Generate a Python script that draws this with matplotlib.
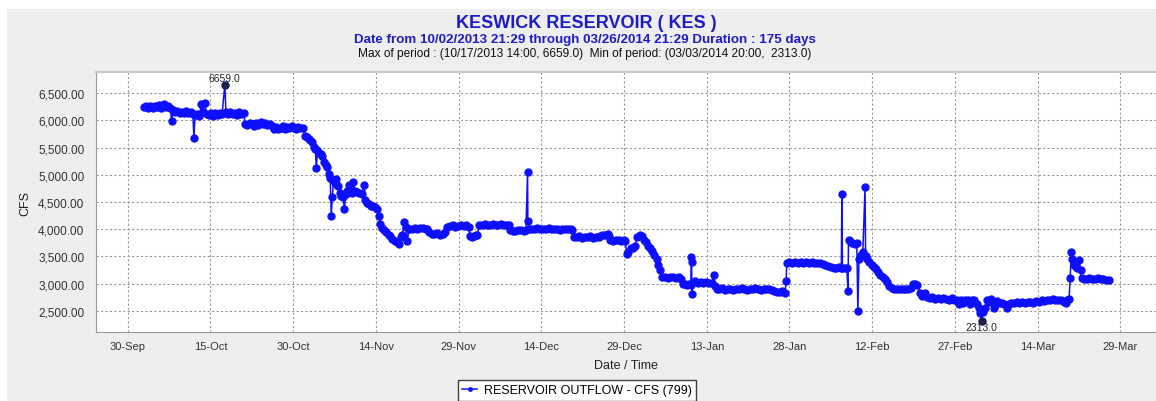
import numpy as np
import pandas as pd
import matplotlib
matplotlib.use("Agg")
import matplotlib.pyplot as plt
from matplotlib.ticker import FuncFormatter
from matplotlib.patches import Rectangle

plt.rcParams['font.family'] = ['Liberation Sans', 'DejaVu Sans']

# day offsets are days after 30-Sep-2013 00:00, values in CFS
oct_days = [2.9, 3.3, 3.7, 4.1, 4.5, 4.9, 5.3, 5.7, 6.1, 6.5, 6.9, 7.3, 7.7, 7.97, 8.2, 8.6,
            9.0, 9.4, 9.8, 10.2, 10.6, 11.0, 11.4, 11.8, 12.0, 12.2, 12.6, 13.0, 13.3, 13.6,
            14.0, 14.3, 14.7, 15.1, 15.5, 15.9, 16.3, 16.7, 17.1, 17.6, 17.8, 18.2, 18.6,
            19.0, 19.4, 19.8, 20.2, 20.6, 21.0, 21.3, 21.7, 22.1, 22.5, 22.9, 23.3, 23.7,
            24.1, 24.5, 24.9, 25.3, 25.7, 26.1, 26.5, 26.9, 27.3, 27.7, 28.1, 28.5, 28.9,
            29.3, 29.7, 30.1, 30.5, 30.9, 31.3, 31.7]
oct_cfs = [6240, 6270, 6230, 6260, 6220, 6270, 6240, 6280, 6230, 6300, 6250, 6270, 6230, 5985, 6200, 6150,
           6170, 6130, 6160, 6140, 6180, 6130, 6150, 6110, 5674, 6100, 6120, 6090, 6300, 6150,
           6320, 6120, 6100, 6130, 6090, 6140, 6100, 6130, 6110, 6659, 6150, 6120, 6150,
           6110, 6140, 6100, 6150, 6120, 6140, 5940, 5920, 5960, 5930, 5900, 5950, 5920,
           5970, 5940, 5960, 5910, 5940, 5890, 5850, 5880, 5840, 5870, 5890, 5850, 5880,
           5860, 5890, 5870, 5850, 5880, 5860, 5870]

nov_days = [32.2, 32.5, 32.8, 33.1, 33.4, 33.7, 34.0, 34.2, 34.4, 34.7, 35.0, 35.3, 35.6, 35.9,
            36.2, 36.5, 36.7, 36.9, 37.1, 37.3, 37.5, 37.7, 37.9, 38.1, 38.4, 38.7, 39.0, 39.3,
            39.5, 39.8, 40.1, 40.4, 40.7, 40.9, 41.2, 41.6, 42.0, 42.4, 42.9, 43.1, 43.4, 43.7,
            44.1, 44.5, 44.9, 45.2, 45.5, 45.8, 46.1, 46.5, 46.9, 47.3, 47.6, 48.0, 48.4, 48.8,
            49.2, 49.5, 49.8, 50.1, 50.4, 50.7, 51.0, 51.5, 52.0, 52.5, 53.0, 53.5, 54.0, 54.3,
            54.6, 55.1, 55.6, 56.1, 56.6, 57.1, 57.6, 57.9, 58.4, 58.9, 59.4, 59.9, 60.4, 60.9,
            61.4, 61.8, 62.0, 62.4, 62.8, 63.1, 63.4, 63.7, 64.2, 64.7, 65.2, 65.7, 66.2, 66.7,
            67.2, 67.7, 68.2, 68.7, 69.1, 69.4, 69.8, 70.3, 70.8, 71.3, 71.8, 72.2, 72.5, 72.55,
            72.8, 73.3, 73.8, 74.3, 74.8, 75.3, 75.8, 76.3, 76.8, 77.3, 77.8, 78.3, 78.8, 79.3,
            79.8, 80.3, 80.6, 80.9, 81.4, 81.9, 82.4, 82.9, 83.4, 83.9, 84.4, 84.9, 85.4, 85.7,
            86.0, 86.5, 87.0, 87.2, 87.5, 88.0, 88.5, 89.0, 89.5, 90.0, 90.2, 90.5, 90.8, 91.2,
            91.6, 92.0, 92.4, 92.8, 93.2, 93.6, 93.9, 94.3, 94.7, 95.1, 95.5]
nov_cfs = [5720, 5700, 5660, 5640, 5600, 5520, 5480, 5125, 5450, 5400, 5380, 5350, 5240, 5180,
           5140, 5020, 4950, 4250, 4600, 4900, 4850, 4930, 4820, 4800, 4660, 4620, 4600, 4370,
           4640, 4700, 4815, 4680, 4660, 4865, 4700, 4680, 4670, 4650, 4815, 4530, 4480, 4460,
           4430, 4420, 4400, 4380, 4250, 4100, 4020, 3990, 3940, 3900, 3880, 3820, 3790, 3760,
           3730, 3850, 3900, 4125, 4050, 3785, 4000, 4010, 4030, 4000, 4020, 4030, 4010, 4000,
           3940, 3920, 3910, 3930, 3900, 3920, 3950, 4050, 4060, 4070, 4050, 4060, 4080, 4060,
           4070, 4050, 3880, 3850, 3880, 3900, 3890, 4070, 4080, 4090, 4080, 4070, 4090, 4080,
           4070, 4090, 4080, 4070, 4080, 3980, 3960, 3970, 3990, 3980, 3970, 3990, 5050, 4160,
           4000, 4010, 4000, 4020, 4000, 4010, 4000, 4020, 4000, 4010, 4000, 3990, 4010, 4000,
           4010, 4000, 3990, 3860, 3850, 3870, 3840, 3860, 3850, 3870, 3840, 3850, 3860, 3880,
           3900, 3890, 3910, 3880, 3800, 3790, 3810, 3800, 3790, 3810, 3780, 3540, 3580, 3660,
           3650, 3700, 3860, 3890, 3880, 3800, 3760, 3700, 3650, 3600, 3520]

jan_days = [95.9, 96.2, 96.5, 96.9, 97.4, 97.9, 98.4, 98.9, 99.4, 99.9, 100.3, 100.6, 101.0, 101.4,
            101.8, 102.1, 102.2, 102.25, 102.3, 102.5, 102.9, 103.4, 103.9, 104.4, 104.9, 105.4,
            105.9, 106.3, 106.5, 106.8, 107.3, 107.8, 108.3, 108.8, 109.3, 109.8, 110.3, 110.8,
            111.3, 111.8, 112.3, 112.8, 113.3, 113.8, 114.3, 114.8, 115.3, 115.8, 116.3, 116.8,
            117.2, 117.7, 118.2, 118.7, 119.2, 119.4, 119.5, 120.0, 120.5, 121.0, 121.5, 122.0,
            122.5, 123.0, 123.5, 124.0, 124.5, 125.0, 125.5, 126.0, 126.5, 127.0, 127.5, 128.0,
            128.5, 129.0, 129.4, 129.5, 129.6, 130.0, 130.4, 130.6, 130.7, 131.0, 131.4, 131.8,
            132.2, 132.4, 132.6, 132.9, 133.3, 133.7, 133.8, 134.1, 134.5, 134.9, 135.3, 135.7,
            136.1, 136.5, 136.9, 137.3, 137.7, 138.1, 138.5, 139.0, 139.5, 140.0, 140.5, 141.0,
            141.5, 142.0, 142.4, 142.8, 143.2]
jan_cfs = [3460, 3340, 3250, 3130, 3120, 3110, 3130, 3120, 3110, 3120, 3080, 3000, 2990, 2970,
           3000, 2980, 3490, 3400, 2800, 3030, 3040, 3020, 3030, 3010, 3030, 3020,
           3010, 3165, 2950, 2910, 2900, 2920, 2890, 2910, 2900, 2880, 2910, 2900,
           2920, 2900, 2890, 2910, 2900, 2920, 2900, 2890, 2910, 2900, 2910, 2890,
           2860, 2850, 2840, 2860, 2830, 3050, 3380, 3390, 3370, 3390, 3380, 3400,
           3380, 3390, 3370, 3390, 3380, 3370, 3380, 3360, 3350, 3320, 3300, 3290,
           3280, 3300, 3280, 4655, 3290, 3280, 3290, 2860, 3800, 3780, 3750, 3720,
           3740, 2490, 3450, 3520, 3580, 4780, 3500, 3460, 3400, 3340, 3300, 3260,
           3220, 3150, 3120, 3080, 3030, 2950, 2920, 2910, 2900, 2910, 2900, 2910,
           2900, 2920, 2990, 3000, 2980]

mar_days = [143.7, 144.1, 144.5, 144.9, 145.4, 145.9, 146.4, 146.9, 147.4, 147.9, 148.4, 148.9,
            149.4, 149.9, 150.3, 150.7, 151.1, 151.5, 151.9, 152.3, 152.7, 153.1, 153.5, 154.0,
            154.3, 154.6, 154.83, 155.1, 155.4, 155.8, 156.2, 156.6, 157.0, 157.3, 157.7, 158.1,
            158.5, 158.9, 159.4, 159.8, 160.2, 160.7, 161.2, 161.7, 162.2, 162.7, 163.2, 163.7,
            164.2, 164.7, 165.2, 165.7, 166.2, 166.7, 167.2, 167.7, 168.2, 168.7, 169.2, 169.7,
            170.1, 170.4, 170.7, 170.9, 171.1, 171.3, 171.6, 171.9, 172.2, 172.5, 172.8, 173.0,
            173.4, 173.9, 174.4, 174.9, 175.4, 175.9, 176.4, 176.9, 177.4, 177.9]
mar_cfs = [2820, 2780, 2820, 2760, 2740, 2750, 2720, 2740, 2710, 2730, 2720, 2700,
           2730, 2700, 2690, 2620, 2700, 2640, 2690, 2700, 2620, 2690, 2700, 2620,
           2550, 2460, 2313, 2470, 2560, 2690, 2660, 2710, 2560, 2600, 2680, 2650,
           2640, 2620, 2560, 2620, 2640, 2650, 2660, 2640, 2660, 2650, 2670, 2660,
           2650, 2680, 2670, 2690, 2680, 2700, 2690, 2710, 2700, 2690, 2700, 2660,
           2640, 2700, 2720, 3100, 3580, 3450, 3350, 3300, 3290, 3430, 3250, 3100,
           3080, 3090, 3100, 3080, 3090, 3110, 3080, 3090, 3070, 3060]

tick_labels = ["30-Sep", "15-Oct", "30-Oct", "14-Nov", "29-Nov", "14-Dec", "29-Dec",
               "13-Jan", "28-Jan", "12-Feb", "27-Feb", "14-Mar", "29-Mar"]
y_ticks = [2500, 3000, 3500, 4000, 4500, 5000, 5500, 6000, 6500]

base = pd.Timestamp("2013-09-30")
days = np.array(oct_days + nov_days + jan_days + mar_days)
cfs = np.array(oct_cfs + nov_cfs + jan_cfs + mar_cfs)
dates = base + pd.to_timedelta(days, unit="D")

W, H = 1156, 402
fig = plt.figure(figsize=(W / 100, H / 100), dpi=100)
fig.patch.set_facecolor("white")
fig.patches.append(Rectangle((7 / W, 0), 1, 1 - 10 / H, transform=fig.transFigure,
                             facecolor="#eeeeee", edgecolor="none", zorder=-10))

ax = fig.add_axes([95.5 / W, 1 - 333.3 / H, (1157 - 95.5) / W, (333.3 - 73.3) / H])
ax.set_facecolor("white")

line, = ax.plot(dates, cfs, '-', color="#0f0fff", lw=1.1, marker='o', ms=5,
                mec="#0f0fff", mfc="#0f0fff", label="RESERVOIR OUTFLOW - CFS (799)", zorder=3)

# max / min markers
imax = np.argmax(cfs)
imin = np.argmin(cfs)
ax.plot([dates[imax], dates[imin]], [cfs[imax], cfs[imin]], 'o', color="#202040", ms=4.5, zorder=4)
ax.annotate(f"{cfs[imax]:.1f}", (dates[imax], cfs[imax]), xytext=(0, 1.5), textcoords="offset points",
            ha="center", va="bottom", fontsize=7.5, color="#222222", zorder=5)
ax.annotate(f"{cfs[imin]:.1f}", (dates[imin], cfs[imin]), xytext=(0, -1), textcoords="offset points",
            ha="center", va="top", fontsize=7.5, color="#222222", zorder=5)

start = pd.Timestamp("2013-10-02 21:29")
end = pd.Timestamp("2014-03-26 21:29")
span = end - start
ax.set_xlim(start - span * 0.05, end + span * 0.05)
ax.set_ylim(2105, 6885)

ticks = pd.date_range("2013-09-30", periods=len(tick_labels), freq="15D")
ax.set_xticks(ticks)
ax.set_xticklabels(tick_labels)
ax.set_yticks(y_ticks)
ax.yaxis.set_major_formatter(FuncFormatter(lambda v, p: f"{v:,.2f}"))
ax.tick_params(axis="both", length=0, labelsize=8, colors="#333333")
ax.tick_params(axis="y", pad=8, labelsize=8.5)
ax.tick_params(axis="x", pad=6)

ax.grid(True, color="#999999", linestyle=(0, (2, 2)), linewidth=0.8)
ax.set_axisbelow(True)
for side in ["left", "bottom"]:
    ax.spines[side].set_color("#999999")
ax.spines["top"].set_color("#c8c8c8")
ax.spines["top"].set_linewidth(1.5)
ax.spines["right"].set_visible(False)

ax.set_xlabel("Date / Time", fontsize=9, color="#222222", labelpad=6)
ax.set_ylabel("CFS", fontsize=9, color="#222222", labelpad=5)

fig.text(586 / W, 1 - 23 / H, "KESWICK RESERVOIR ( KES )", ha="center", va="center",
         fontsize=13, fontweight="bold", color="#1c1ccc")
fig.text(585 / W, 1 - 40.5 / H, "Date from 10/02/2013 21:29 through 03/26/2014 21:29 Duration : 175 days",
         ha="center", va="center", fontsize=9.6, fontweight="bold", color="#1c1ccc")
fig.text(585 / W, 1 - 54 / H,
         "Max of period : (10/17/2013 14:00, 6659.0)  Min of period: (03/03/2014 20:00,  2313.0)",
         ha="center", va="center", fontsize=8.6, color="#111111")

leg = fig.legend(handles=[line], loc="upper left", bbox_to_anchor=(458 / W, 1 - 381 / H),
                 bbox_transform=fig.transFigure, fontsize=9, frameon=True, fancybox=False,
                 framealpha=1, edgecolor="#404040", handlelength=1.2, handletextpad=0.5,
                 borderpad=0.35, borderaxespad=0, markerscale=0.5)
leg.get_frame().set_linewidth(1.0)

fig.savefig("out.png", dpi=100)
